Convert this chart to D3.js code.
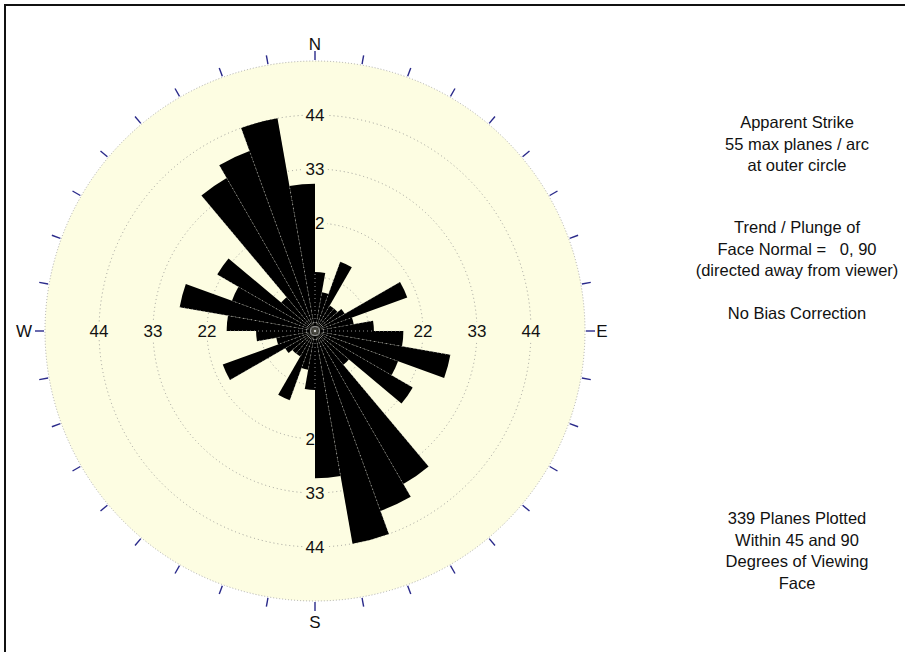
<!DOCTYPE html>
<html>
<head>
<meta charset="utf-8">
<script src="https://cdn.jsdelivr.net/npm/d3@7"></script>
<style>
  body { margin: 0; background: #fff; }
  text { font-family: "Liberation Sans", Arial, sans-serif; fill: #111; }
</style>
</head>
<body>
<script>
// bin starts (azimuth, deg) and plane counts per 10 deg bin, 0-180
var binStarts = [0, 10, 20, 30, 40, 50, 60, 70, 80, 90, 100, 110, 120, 130, 140, 150, 160, 170];
var counts = [12, 8, 15, 6, 6, 7, 20, 8, 12, 18, 28, 18, 23, 9, 36, 39, 44, 30];
var ringValues = [11, 22, 33, 44];
var ringLabels = ["22", "33", "44"];
var maxPlanes = 55;
var compass = [{ name: "N", az: 0 }, { name: "E", az: 90 }, { name: "S", az: 180 }, { name: "W", az: 270 }];
var infoTop = ["Apparent Strike", "55 max planes / arc", "at outer circle"];
var infoMid = ["Trend / Plunge of", "Face Normal =   0, 90", "(directed away from viewer)"];
var infoBias = ["No Bias Correction"];
var infoBottom = ["339 Planes Plotted", "Within 45 and 90", "Degrees of Viewing", "Face"];

var width = 905, height = 652;
var cx = 315, cy = 331, R = 270;

var svg = d3.select("body").append("svg")
  .attr("width", width)
  .attr("height", height);

// frame
svg.append("path")
  .attr("d", "M5," + height + "V5H" + width)
  .attr("fill", "none")
  .attr("stroke", "#111")
  .attr("stroke-width", 2);

var g = svg.append("g")
  .attr("transform", "translate(" + cx + "," + cy + ")");

var r = d3.scaleLinear()
  .domain([0, maxPlanes])
  .range([0, R]);

var rad = function(deg) { return deg * Math.PI / 180; };

// background disc
g.append("circle")
  .attr("r", r(maxPlanes))
  .attr("fill", "#fdfde2")
  .attr("stroke", "#999")
  .attr("stroke-width", 0.8)
  .attr("stroke-dasharray", "1,2");

// rings
g.selectAll(".ring")
  .data(ringValues)
  .enter().append("circle")
  .attr("class", "ring")
  .attr("r", function(d) { return r(d); })
  .attr("fill", "none")
  .attr("stroke", "#888")
  .attr("stroke-width", 0.8)
  .attr("stroke-dasharray", "1,3");

// ring labels on the 4 axes
var labelData = [];
compass.forEach(function(c) {
  ringLabels.forEach(function(l) { labelData.push({ az: c.az, text: l }); });
});
var lab = g.selectAll(".rlab")
  .data(labelData)
  .enter().append("g")
  .attr("class", "rlab")
  .attr("transform", function(d) {
    var rr = r(+d.text);
    return "translate(" + (rr * Math.sin(rad(d.az))) + "," + (-rr * Math.cos(rad(d.az))) + ")";
  });
lab.append("rect")
  .attr("x", -12).attr("y", -9).attr("width", 24).attr("height", 18)
  .attr("fill", "#fdfde2");
lab.append("text")
  .attr("text-anchor", "middle")
  .attr("dy", "0.36em")
  .style("font-size", "17px")
  .text(function(d) { return d.text; });

// petals, mirrored 180 deg (apparent strike)
var bins = [];
binStarts.forEach(function(s, i) {
  bins.push({ start: s, value: counts[i] });
  bins.push({ start: s + 180, value: counts[i] });
});

var arc = d3.arc()
  .innerRadius(0)
  .outerRadius(function(d) { return r(d.value); })
  .startAngle(function(d) { return rad(d.start); })
  .endAngle(function(d) { return rad(d.start + 10); });

g.selectAll(".petal")
  .data(bins)
  .enter().append("path")
  .attr("class", "petal")
  .attr("d", arc)
  .attr("fill", "#000");

// dotted bin edges over the petals
g.selectAll(".edge")
  .data(bins)
  .enter().append("line")
  .attr("class", "edge")
  .attr("x1", 0).attr("y1", 0)
  .attr("x2", function(d) { return r(d.value) * Math.sin(rad(d.start)); })
  .attr("y2", function(d) { return -r(d.value) * Math.cos(rad(d.start)); })
  .attr("stroke", "#ccc")
  .attr("stroke-width", 0.7)
  .attr("stroke-dasharray", "1,3");

// outer ticks every 10 deg
g.selectAll(".tick")
  .data(d3.range(0, 360, 10))
  .enter().append("line")
  .attr("class", "tick")
  .attr("x1", function(d) { return (R + 1) * Math.sin(rad(d)); })
  .attr("y1", function(d) { return -(R + 1) * Math.cos(rad(d)); })
  .attr("x2", function(d) { return (R + 10) * Math.sin(rad(d)); })
  .attr("y2", function(d) { return -(R + 10) * Math.cos(rad(d)); })
  .attr("stroke", "#2a2a8a")
  .attr("stroke-width", 1.4);

// compass letters (N and E sit a little closer to the circle)
var dirOffset = function(d) { return (d.name === "N" || d.name === "E") ? R + 17 : R + 21; };
g.selectAll(".dir")
  .data(compass)
  .enter().append("text")
  .attr("class", "dir")
  .attr("x", function(d) { return dirOffset(d) * Math.sin(rad(d.az)); })
  .attr("y", function(d) { return -dirOffset(d) * Math.cos(rad(d.az)); })
  .attr("dy", "0.36em")
  .attr("text-anchor", "middle")
  .style("font-size", "17px")
  .text(function(d) { return d.name; });

// info text on the right
function block(lines, y0) {
  svg.append("g").selectAll("text")
    .data(lines)
    .enter().append("text")
    .attr("x", 797)
    .attr("y", function(d, i) { return y0 + i * 21.5; })
    .attr("text-anchor", "middle")
    .style("font-size", "16.5px")
    .style("white-space", "pre")
    .text(function(d) { return d; });
}
block(infoTop, 128);
block(infoMid, 233);
block(infoBias, 319);
block(infoBottom, 524);
</script>
</body>
</html>
